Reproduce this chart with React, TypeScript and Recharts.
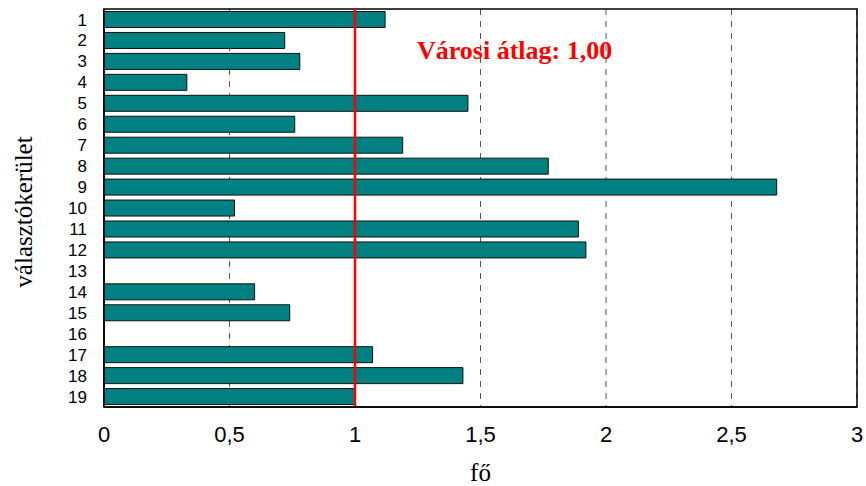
import React from 'react';
import { BarChart, Bar, XAxis, YAxis, CartesianGrid, ReferenceLine, ReferenceArea } from 'recharts';

const districts = ['1','2','3','4','5','6','7','8','9','10','11','12','13','14','15','16','17','18','19'];
const values = [1.12, 0.72, 0.78, 0.33, 1.45, 0.76, 1.19, 1.77, 2.68, 0.52, 1.89, 1.92, 0, 0.6, 0.74, 0, 1.07, 1.43, 1.0];
const xTicks = [0, 0.5, 1, 1.5, 2, 2.5, 3];
const cityAverage = 1.0;
const averageLabel = 'Városi átlag: 1,00';
const xTitle = 'fő';
const yTitle = 'választókerület';

const data = districts.map((d, i) => ({ name: d, value: values[i] }));

const fmt = (v: number) => String(v).replace('.', ',');

export default function App() {
  return (
    <div style={{ position: 'absolute', left: 0, top: 0 }}>
      <BarChart
        width={866}
        height={486}
        data={data}
        layout="vertical"
        margin={{ top: 9, right: 9, bottom: 0, left: 0 }}
        barCategoryGap="12%"
      >
        <CartesianGrid horizontal={false} stroke="#555" strokeDasharray="6 6" />
        <XAxis
          type="number"
          domain={[0, 3]}
          ticks={xTicks}
          tickFormatter={fmt}
          interval={0}
          height={79}
          axisLine={{ stroke: '#000', strokeWidth: 1.5 }}
          tickLine={false}
          tickSize={0}
          tickMargin={19}
          tick={{ fill: '#000', fontSize: 22, fontFamily: 'Liberation Sans, Arial, sans-serif' }}
          label={(props: any) => {
            const vb = props.viewBox;
            return (
              <text x={vb.x + vb.width / 2} y={vb.y + 74} textAnchor="middle" fill="#000" fontSize={25} fontFamily="Liberation Serif, Times New Roman, serif">
                {xTitle}
              </text>
            );
          }}
        />
        <YAxis
          type="category"
          dataKey="name"
          width={104}
          interval={0}
          axisLine={{ stroke: '#000', strokeWidth: 1.5 }}
          tickLine={false}
          tickSize={0}
          tickMargin={17}
          tick={{ fill: '#000', fontSize: 17, fontFamily: 'Liberation Sans, Arial, sans-serif' }}
          label={(props: any) => {
            const vb = props.viewBox;
            const cx = vb.x + 32;
            const cy = vb.y + vb.height / 2 + 4;
            return (
              <text x={cx} y={cy} transform={`rotate(-90 ${cx} ${cy})`} textAnchor="middle" fill="#000" fontSize={25} fontFamily="Liberation Serif, Times New Roman, serif">
                {yTitle}
              </text>
            );
          }}
        />
        <ReferenceArea x1={0} x2={3} fill="none" fillOpacity={0} stroke="#000" strokeWidth={1.5} ifOverflow="visible" />
        <Bar dataKey="value" fill="#008080" stroke="#111" strokeWidth={1} isAnimationActive={false} />
        <ReferenceLine
          x={cityAverage}
          stroke="#ff0000"
          strokeWidth={2.5}
          label={(props: any) => {
            const vb = props.viewBox;
            return (
              <text x={vb.x + 62} y={vb.y + 50} fill="#ff0000" fontSize={26} fontWeight="bold" fontFamily="Liberation Serif, Times New Roman, serif">
                {averageLabel}
              </text>
            );
          }}
        />
      </BarChart>
    </div>
  );
}
